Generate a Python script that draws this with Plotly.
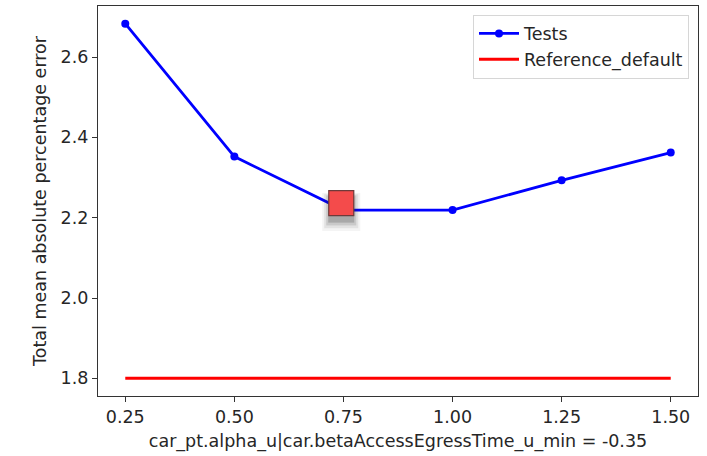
import plotly.graph_objects as go

# Parameter sweep results
alpha_values = [0.25, 0.50, 0.75, 1.00, 1.25, 1.50]
test_errors = [2.683, 2.352, 2.219, 2.219, 2.293, 2.362]
reference_default = 1.80

# Highlighted best setting
best_x = [0.745]
best_y = [2.236]

x_ticks = [0.25, 0.50, 0.75, 1.00, 1.25, 1.50]
y_ticks = [1.8, 2.0, 2.2, 2.4, 2.6]

font = dict(family="DejaVu Sans, sans-serif", size=17.5, color="#262626")

fig = go.Figure()

fig.add_trace(go.Scatter(
    x=alpha_values, y=test_errors, mode="lines+markers", name="Tests",
    line=dict(color="#0000ff", width=2.8),
    marker=dict(color="#0000ff", size=8),
))
fig.add_trace(go.Scatter(
    x=[alpha_values[0], alpha_values[-1]], y=[reference_default] * 2,
    mode="lines", name="Reference_default",
    line=dict(color="#ff0000", width=3),
))

# soft drop shadow under the highlighted square
for dy, size, op in [(-0.022, 38, 0.05), (-0.020, 34, 0.09), (-0.018, 30, 0.13), (-0.016, 26, 0.2)]:
    fig.add_trace(go.Scatter(
        x=best_x, y=[best_y[0] + dy], mode="markers", showlegend=False,
        hoverinfo="skip",
        marker=dict(symbol="square", size=size, color="rgba(40,40,40,1)",
                    opacity=op, line=dict(width=0)),
    ))
fig.add_trace(go.Scatter(
    x=best_x, y=best_y, mode="markers", showlegend=False,
    marker=dict(symbol="square", size=25, color="#f44b4b",
                line=dict(color="#6e3a3a", width=1.2)),
))

axis_common = dict(
    showline=True, linecolor="#333333", linewidth=1.3, mirror=True,
    ticks="outside", ticklen=5, tickcolor="#333333", tickwidth=1.2,
    showgrid=False, zeroline=False, tickfont=font,
)

fig.update_layout(
    width=707, height=456,
    margin=dict(l=98, r=9, t=6, b=60),
    paper_bgcolor="white", plot_bgcolor="white",
    font=font,
    xaxis=dict(range=[0.1875, 1.5625], tickvals=x_ticks, tickformat=".2f",
               title=dict(text="car_pt.alpha_u|car.betaAccessEgressTime_u_min = -0.35",
                          font=font, standoff=8),
               **axis_common),
    yaxis=dict(range=[1.756, 2.727], tickvals=y_ticks, tickformat=".1f",
               title=dict(text="Total mean absolute percentage error",
                          font=font, standoff=9),
               **axis_common),
    legend=dict(x=0.985, y=0.978, xanchor="right", yanchor="top",
                bgcolor="rgba(255,255,255,0.9)", bordercolor="#d6d6d6",
                borderwidth=1, font=font,
                itemwidth=40, tracegroupgap=2),
    showlegend=True,
)

fig.write_html("out.html")
